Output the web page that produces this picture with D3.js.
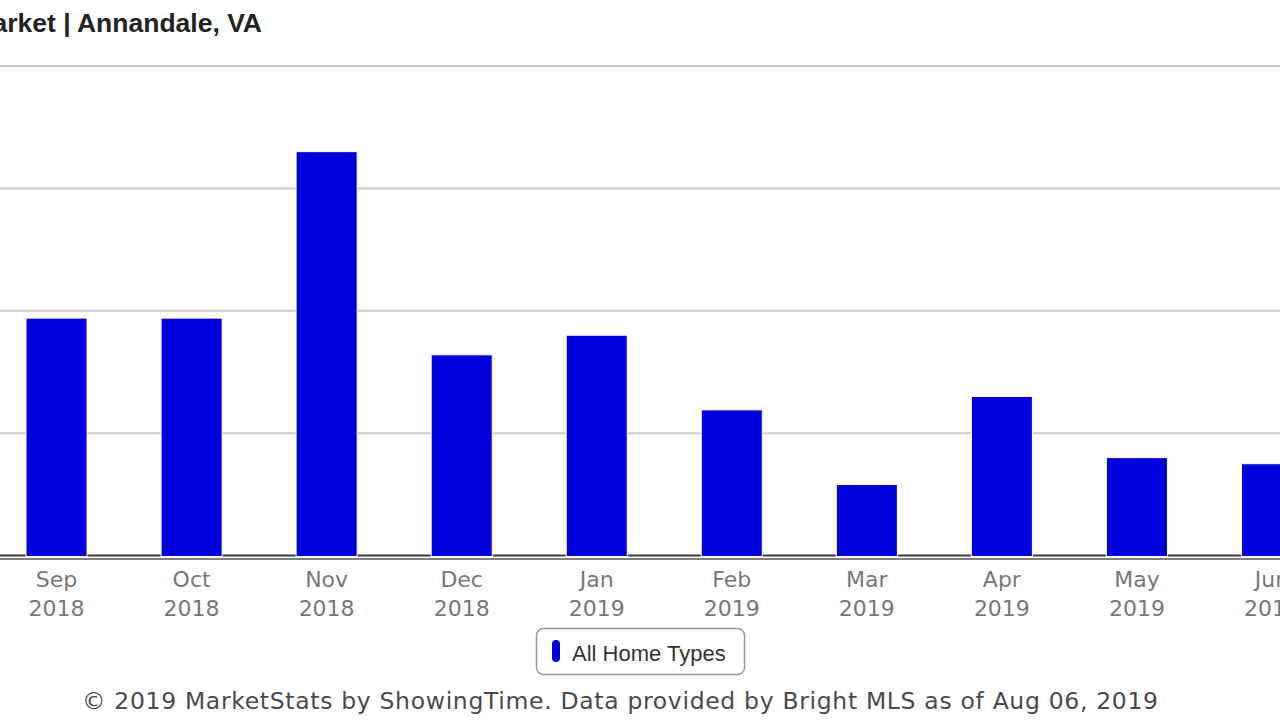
<!DOCTYPE html>
<html>
<head>
<meta charset="utf-8">
<script src="https://cdn.jsdelivr.net/npm/d3@7"></script>
<style>
  html, body { margin: 0; padding: 0; background: #fff; overflow: hidden; }
</style>
</head>
<body>
<svg id="chart" width="1280" height="720"></svg>
<script>
// data (only the visible part of the chart)
const months = ['Sep', 'Oct', 'Nov', 'Dec', 'Jan', 'Feb', 'Mar', 'Apr', 'May', 'Jun']
const years = ['2018', '2018', '2018', '2018', '2019', '2019', '2019', '2019', '2019', '2019']
const allHomeTypes = [19.4, 19.4, 33.0, 16.4, 18.0, 11.9, 5.8, 13.0, 8.0, 7.5]
const yTicks = [0, 10, 20, 30, 40]

const title = 'Days on Market | Annandale, VA'
const seriesName = 'All Home Types'
const credit = '\u00A9 2019 MarketStats by ShowingTime. Data provided by Bright MLS as of Aug 06, 2019'

const svg = d3.select('#chart')
const barColor = '#0000dd'

// the reference is a crop of a wider chart, so the plot runs past both edges
const x = d3.scaleBand()
  .domain(months.map((m, i) => i))
  .range([-11, 1339.5])
  .paddingInner(0.548)
  .paddingOuter(0.274)

const y = d3.scaleLinear()
  .domain([0, 40])
  .range([555.5, 66])

// gridlines
svg.append('g')
  .selectAll('line')
  .data(yTicks)
  .join('line')
  .attr('x1', 0)
  .attr('x2', 1280)
  .attr('y1', d => y(d))
  .attr('y2', d => y(d))
  .attr('stroke', d => d === 0 ? '#3a3a3a' : '#cccccc')
  .attr('stroke-width', 2)

// x axis line
svg.append('line')
  .attr('x1', 0)
  .attr('x2', 1280)
  .attr('y1', 559)
  .attr('y2', 559)
  .attr('stroke', '#555')
  .attr('stroke-width', 1.5)

// bars
svg.append('g')
  .selectAll('rect')
  .data(allHomeTypes)
  .join('rect')
  .attr('x', (d, i) => x(i))
  .attr('width', x.bandwidth())
  .attr('y', d => y(d))
  .attr('height', d => y(0) - y(d) + 1)
  .attr('fill', barColor)
  .attr('stroke', '#fff')
  .attr('stroke-width', 1)

// category labels, two lines each
const labels = svg.append('g')
  .attr('font-family', 'DejaVu Sans, sans-serif')
  .attr('font-size', 22)
  .attr('fill', '#777')
  .attr('text-anchor', 'middle')
  .selectAll('text')
  .data(months)
  .join('text')
  .attr('transform', (d, i) => `translate(${x(i) + x.bandwidth() / 2},0)`)

labels.append('tspan').attr('x', 0).attr('y', 587).text(d => d)
labels.append('tspan').attr('x', 0).attr('y', 616).text((d, i) => years[i])

// title (left part is cut off in the reference)
svg.append('text')
  .attr('x', 262)
  .attr('y', 32)
  .attr('text-anchor', 'end')
  .attr('font-family', 'Liberation Sans, Arial, sans-serif')
  .attr('font-weight', 'bold')
  .attr('font-size', 26.5)
  .attr('fill', '#222')
  .text(title)

// legend
const legend = svg.append('g')
legend.append('rect')
  .attr('x', 536.5)
  .attr('y', 628.5)
  .attr('width', 208)
  .attr('height', 46)
  .attr('rx', 7)
  .attr('fill', '#fff')
  .attr('stroke', '#999')
  .attr('stroke-width', 1.5)
legend.append('rect')
  .attr('x', 552)
  .attr('y', 640)
  .attr('width', 8)
  .attr('height', 22)
  .attr('rx', 4)
  .attr('fill', barColor)
legend.append('text')
  .attr('x', 572)
  .attr('y', 661)
  .attr('font-family', 'Liberation Sans, Arial, sans-serif')
  .attr('font-size', 22)
  .attr('fill', '#333')
  .text(seriesName)

// credit line
svg.append('text')
  .attr('x', 82)
  .attr('y', 709)
  .attr('textLength', 1076)
  .attr('lengthAdjust', 'spacing')
  .attr('font-family', 'DejaVu Sans, sans-serif')
  .attr('font-size', 23.5)
  .attr('fill', '#4a4a4a')
  .text(credit)
</script>
</body>
</html>
